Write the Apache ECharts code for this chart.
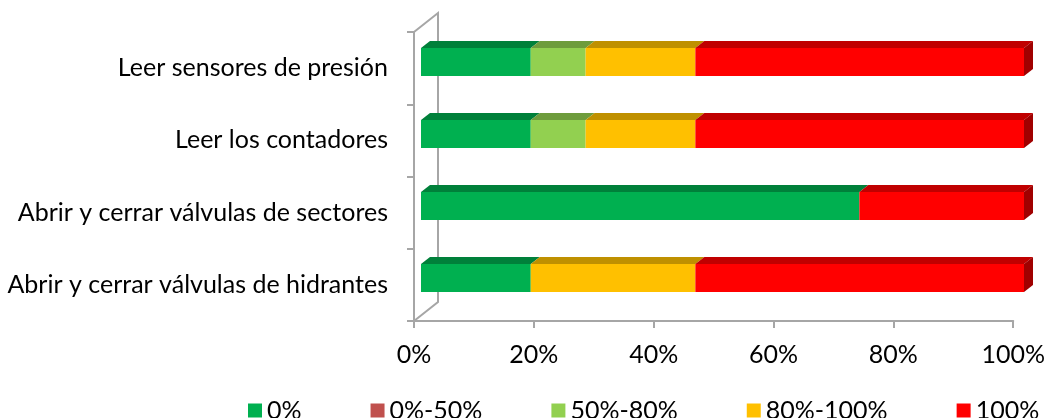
<!DOCTYPE html>
<html>
<head>
<meta charset="utf-8">
<script src="https://cdn.jsdelivr.net/npm/echarts@6/dist/echarts.min.js"></script>
<style>html,body{margin:0;padding:0;background:#fff}#c{width:1048px;height:418px}</style>
</head>
<body>
<div id="c"></div>
<script>
// ---- data ----
const categories = ["Leer sensores de presión", "Leer los contadores", "Abrir y cerrar válvulas de sectores", "Abrir y cerrar válvulas de hidrantes"];
const seriesNames = ["0%", "0%-50%", "50%-80%", "80%-100%", "100%"];
const v0 = [18.2, 18.2, 72.7, 18.2];
const v0_50 = [0, 0, 0, 0];
const v50_80 = [9.1, 9.1, 0, 0];
const v80_100 = [18.2, 18.2, 0, 27.3];
const v100 = [54.5, 54.5, 27.3, 54.5];
const xTicks = [0, 20, 40, 60, 80, 100];

// ---- style ----
const FRONT = ["#00B050", "#C0504D", "#92D050", "#FFC000", "#FF0000"];
const TOP = ["#00803A", "#9A3D3B", "#6E9C3C", "#BF9000", "#C00000"];
const SIDE = ["#006B30", "#7F3230", "#5A8030", "#A07800", "#A00000"];
const DX = 9, DY = 7, BAR_RATIO = 28 / 72;
const AX = "#A6A6A6";
const FONT = "Lato";

const allVals = [v0, v0_50, v50_80, v80_100, v100];
const cum = categories.map(() => 0);
const seriesData = allVals.map(arr => arr.map((v, i) => {
  const s = cum[i]; cum[i] += v; return [i, s, s + v];
}));

function makeRender(k) {
  return function (params, api) {
    const cat = api.value(0), s = api.value(1), e = api.value(2);
    if (e - s <= 0.0001) return null;
    const p0 = api.coord([s, cat]), p1 = api.coord([e, cat]);
    const h = api.size([0, 1])[1] * BAR_RATIO;
    const x0 = p0[0], x1 = p1[0], yT = p0[1] - h / 2, yB = p0[1] + h / 2;
    const children = [
      { type: 'rect', shape: { x: x0, y: yT, width: x1 - x0, height: h }, style: { fill: FRONT[k] } },
      { type: 'polygon', shape: { points: [[x0, yT], [x1, yT], [x1 + DX, yT - DY], [x0 + DX, yT - DY]] }, style: { fill: TOP[k] } }
    ];
    if (e >= 99.95) {
      children.push({ type: 'polygon', shape: { points: [[x1, yT], [x1 + DX, yT - DY], [x1 + DX, yB - DY], [x1, yB]] }, style: { fill: SIDE[k] } });
    }
    return { type: 'group', children };
  };
}

const chart = echarts.init(document.getElementById('c'), null, { renderer: 'canvas' });

const G1 = { left: 414, right: 32, top: 32, bottom: 97 };
const wallX = G1.left + 24, wallDY = 19;
const H = 418;

chart.setOption({
  animation: false,
  backgroundColor: '#fff',
  textStyle: { fontFamily: FONT },
  grid: [
    G1,
    { left: 421, right: 24, top: 26, bottom: 104 }
  ],
  xAxis: [
    {
      gridIndex: 0, type: 'value', min: 0, max: 100, interval: 20,
      axisLine: { show: true, lineStyle: { color: AX, width: 2 } },
      axisTick: { show: true, length: 7, lineStyle: { color: AX, width: 2 } },
      splitLine: { show: false },
      axisLabel: { formatter: '{value}%', fontSize: 25, color: '#000', fontFamily: FONT, margin: 21 }
    },
    { gridIndex: 1, type: 'value', min: 0, max: 100, show: false }
  ],
  yAxis: [
    {
      gridIndex: 0, type: 'category', data: categories, inverse: true,
      axisLine: { show: true, lineStyle: { color: AX, width: 2 } },
      axisTick: { show: true, length: 7, lineStyle: { color: AX, width: 2 } },
      axisLabel: { fontSize: 25, color: '#000', fontFamily: FONT, margin: 26 }
    },
    { gridIndex: 1, type: 'category', data: categories, inverse: true, show: false }
  ],
  legend: {
    data: seriesNames, left: 243, top: 393, icon: 'rect', itemWidth: 14, itemHeight: 14, itemGap: 69,
    textStyle: { fontSize: 25, color: '#000', fontFamily: FONT }
  },
  graphic: [
    {
      type: 'polyline', z: 0, silent: true,
      shape: { points: [[G1.left, G1.top], [wallX, G1.top - wallDY], [wallX, H - G1.bottom - wallDY], [G1.left, H - G1.bottom]] },
      style: { stroke: AX, lineWidth: 2, fill: null }
    }
  ],
  series: seriesNames.map((name, k) => ({
    name, type: 'custom', xAxisIndex: 1, yAxisIndex: 1,
    itemStyle: { color: FRONT[k] },
    encode: { x: [1, 2], y: 0 },
    renderItem: makeRender(k),
    data: seriesData[k],
    z: 5
  }))
});
</script>
</body>
</html>
